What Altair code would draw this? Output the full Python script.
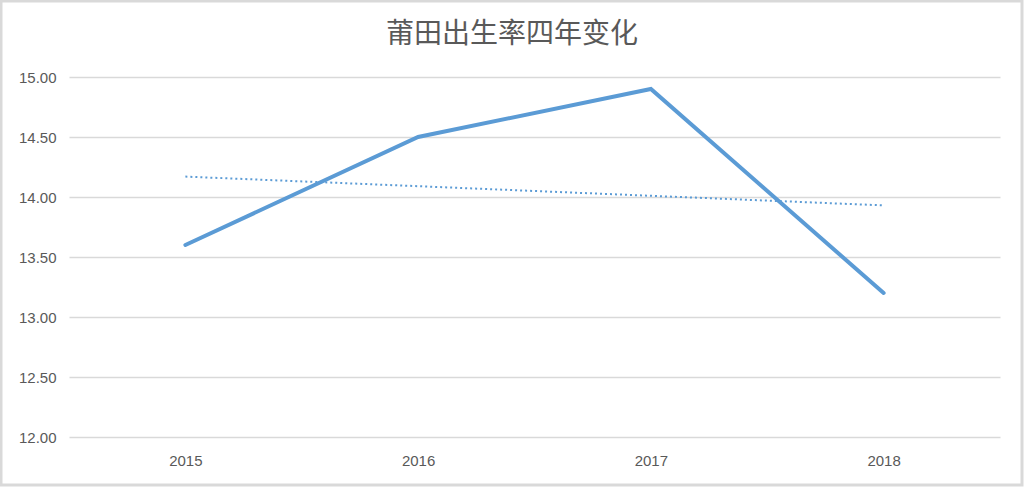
import altair as alt
import pandas as pd

years = [2015, 2016, 2017, 2018]
rates = [13.6, 14.5, 14.9, 13.2]
y_ticks = [12.0, 12.5, 13.0, 13.5, 14.0, 14.5, 15.0]
title_text = "莆田出生率四年变化"

df = pd.DataFrame({"year": years, "rate": rates})

LINE_COLOR = "#5b9bd5"
GRID = "#d9d9d9"
TEXT = "#595959"

x_enc = alt.X("year:Q",
              scale=alt.Scale(domain=[2014.5, 2018.5], nice=False, zero=False),
              axis=alt.Axis(values=years, format="d", grid=False, domain=False, ticks=False,
                            labelPadding=16, labelFontSize=15, labelColor=TEXT,
                            labelFont="Liberation Sans", title=None))
y_enc = alt.Y("rate:Q",
              scale=alt.Scale(domain=[12, 15], nice=False, zero=False),
              axis=alt.Axis(values=y_ticks, format=".2f", grid=True, gridColor=GRID,
                            gridWidth=1.5, domain=False, ticks=False, labelPadding=13,
                            labelFontSize=15, labelColor=TEXT, labelFont="Liberation Sans",
                            title=None))

base = alt.Chart(df)

line = base.mark_line(color=LINE_COLOR, strokeWidth=4, strokeCap="round",
                      strokeJoin="miter").encode(x=x_enc, y=y_enc)

trend = base.transform_regression("year", "rate").mark_line(
    color=LINE_COLOR, strokeWidth=2, strokeDash=[2, 3]
).encode(x="year:Q", y="rate:Q")

border = base.mark_rect(fill=None, stroke=GRID, strokeWidth=3).encode(
    x=alt.value(-68), x2=alt.value(953), y=alt.value(-76), y2=alt.value(408)
).transform_filter(alt.datum.year == 2015)

title = base.mark_text(text=title_text, fontSize=28, color=TEXT,
                       font="Noto Sans CJK SC", baseline="middle", align="center").encode(
    x=alt.value(443), y=alt.value(-42)
).transform_filter(alt.datum.year == 2015)

chart = alt.layer(line, trend, border, title).properties(
    width=931, height=360,
    autosize=alt.AutoSizeParams(type="none"),
    padding={"left": 69, "top": 77, "right": 24, "bottom": 50},
    background="white",
).configure_view(stroke=None)

chart.save("out.html", embed_options={"renderer": "svg", "actions": False})
